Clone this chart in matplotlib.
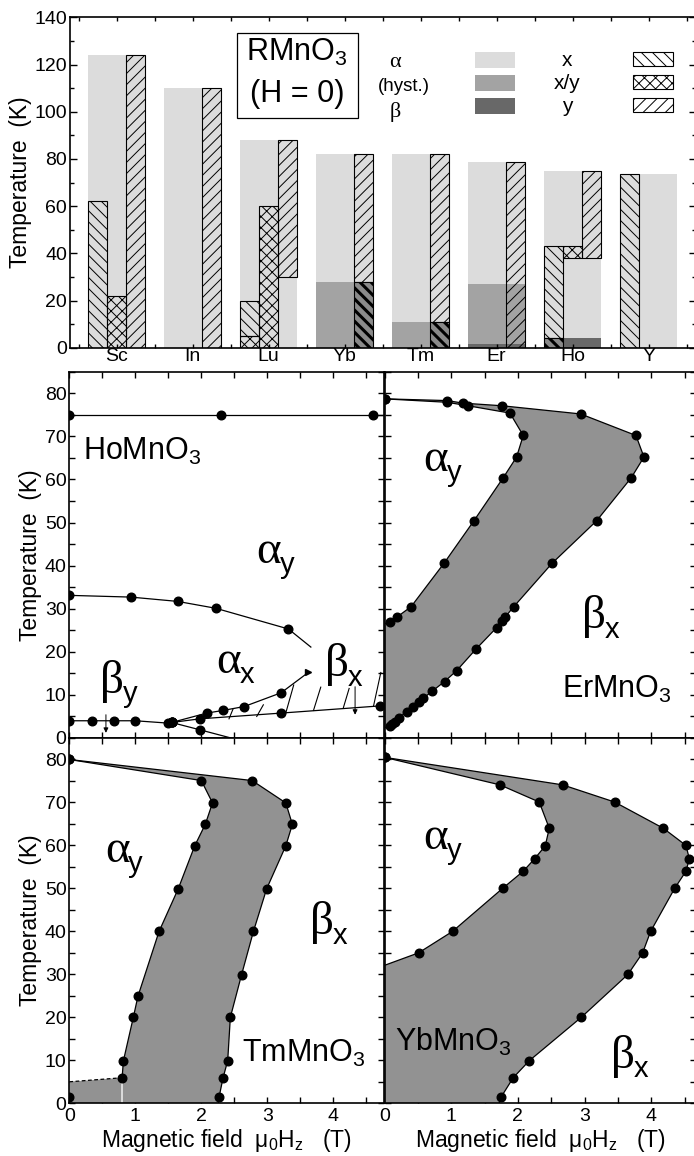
import numpy as np
import matplotlib
matplotlib.use("Agg")
import matplotlib.pyplot as plt
from matplotlib import font_manager
from matplotlib.patches import Rectangle
from matplotlib.ticker import MultipleLocator

# ---------------------------------------------------------------- data
# RMnO3 at H = 0 : ordering temperatures and domain ranges (K)
compounds = ["Sc", "In", "Lu", "Yb", "Tm", "Er", "Ho", "Y"]
t_order = [124, 110, 88, 82, 82, 78.5, 75, 73.5]   # x  (light gray)
t_xy = [0, 0, 0, 28, 11, 27, 0, 0]                  # x/y (medium gray)
t_y = [0, 0, 0, 0, 0, 1.5, 4, 0]                    # y  (dark gray)

# hatched domains (compound, T_low, T_high)
alpha_bars = [("Sc", 0, 62), ("Lu", 5, 20), ("Ho", 4, 43), ("Y", 0, 73.5)]
hyst_alpha_col = [("Lu", 0, 5)]
hyst_bars = [("Sc", 0, 22), ("Lu", 0, 60), ("Ho", 38, 43)]
beta_bars = [("Sc", 0, 124), ("In", 0, 110), ("Lu", 30, 88), ("Yb", 28, 82),
             ("Tm", 11, 82), ("Er", 0, 78.5), ("Ho", 38, 75)]
mixed_beta = [("Yb", 0, 28), ("Tm", 0, 11)]
mixed_alpha = [("Ho", 0, 4)]

# HoMnO3 phase diagram (H in T, T in K)
ho_tn_h = [0, 2.3, 4.6]
ho_tn_t = [75, 75, 75]
ho_upper_h = [0, 0.93, 1.64, 2.22, 3.32]
ho_upper_t = [33.1, 32.7, 31.7, 30.1, 25.3]
ho_upper_tail = (3.66, 21.1)
ho_by_h = [0, 0.34, 0.67, 1.0, 1.5, 1.55]
ho_by_t = [4.0, 4.0, 4.0, 4.0, 3.45, 3.6]
ho_ax_up_h = [1.55, 2.08, 2.33, 2.65, 3.21]
ho_ax_up_t = [3.6, 5.77, 6.4, 7.3, 10.5]
ho_ax_up_end = (3.62, 15.2)
ho_ax_lo_h = [1.55, 1.98, 3.2, 4.71]
ho_ax_lo_t = [3.6, 4.45, 5.77, 7.45]
ho_down_h = [1.55, 1.98]
ho_down_t = [3.6, 1.9]
ho_down_end = (2.45, 0.0)
ho_hatch_h0 = [2.42, 2.84, 3.28, 3.70, 4.15, 4.61]
ho_hatch_t0 = [4.45, 5.0, 5.8, 6.4, 6.9, 7.45]
ho_hatch_h1 = [2.48, 2.94, 3.40, 3.81, 4.24, 4.72]
ho_hatch_t1 = [6.7, 7.7, 12.3, 11.8, 11.5, 15.2]
ho_arrow_h = [0.555, 4.33]
ho_arrow_top = [5.4, 11.9]
ho_arrow_bot = [1.2, 5.4]

# ErMnO3
er_left_h = [0, 0.94, 1.25, 1.88, 2.08, 1.98, 1.78, 1.34, 0.89, 0.40, 0.19, 0.075]
er_left_t = [78.7, 77.9, 77.1, 75.4, 70.2, 65.2, 60.4, 50.4, 40.5, 30.5, 28.1, 26.9]
er_left_end = (0.0, 26.5)
er_right_h = [0, 0.94, 1.18, 1.76, 2.94, 3.77, 3.89, 3.70, 3.18, 2.51, 1.94, 1.81,
              1.76, 1.68, 1.37, 1.08, 0.90, 0.71, 0.58, 0.51, 0.42, 0.33, 0.21,
              0.16, 0.11, 0.075]
er_right_t = [78.7, 78.3, 77.7, 77.1, 75.2, 70.2, 65.2, 60.4, 50.4, 40.5, 30.5, 28.1,
              27.1, 25.6, 20.6, 15.6, 13.1, 10.8, 9.2, 8.4, 7.3, 6.1, 4.6,
              3.8, 3.3, 2.8]
er_right_end = (0.0, 2.3)

# TmMnO3
tm_left_h = [0, 2.0, 2.17, 2.06, 1.90, 1.65, 1.36, 1.04, 0.97, 0.82, 0.80]
tm_left_t = [80, 75.1, 69.9, 64.9, 59.9, 49.9, 40.0, 24.9, 20.0, 9.9, 5.95]
tm_right_h = [0, 2.77, 3.28, 3.38, 3.28, 2.99, 2.79, 2.61, 2.44, 2.40, 2.33, 2.27]
tm_right_t = [80, 75.1, 69.9, 64.9, 59.9, 49.9, 40.0, 29.9, 20.0, 9.9, 5.95, 1.5]
tm_right_end = (2.26, 0.0)
tm_low_h = [0, 0.80]
tm_low_t = [5.0, 5.95]
tm_zero_field = (0, 1.5)

# YbMnO3
yb_left_h = [0, 1.73, 2.32, 2.47, 2.41, 2.25, 2.08, 1.77, 1.02, 0.51]
yb_left_t = [80.5, 74.1, 70.1, 64.0, 59.9, 56.9, 54.0, 50.0, 40.0, 35.0]
yb_left_end = (0.0, 32.1)
yb_right_h = [0, 2.67, 3.45, 4.18, 4.52, 4.57, 4.52, 4.35, 3.99, 3.87, 3.65, 2.95,
              2.17, 1.93, 1.75]
yb_right_t = [80.5, 74.1, 70.1, 64.0, 60.0, 56.9, 54.0, 50.0, 40.0, 35.0, 30.0, 20.0,
              9.9, 5.95, 1.5]
yb_right_end = (1.72, 0.0)

# ---------------------------------------------------------------- style
avail = {f.name for f in font_manager.fontManager.ttflist}
if "Liberation Sans Narrow" in avail:
    SANS, K = "Liberation Sans Narrow", 1.08
else:
    SANS, K = "Liberation Sans", 1.0
SERIF = "Liberation Serif" if "Liberation Serif" in avail else "DejaVu Serif"

plt.rcParams.update({
    "font.family": [SANS, "DejaVu Sans"],
    "mathtext.fontset": "custom",
    "mathtext.rm": SANS,
    "mathtext.it": SANS,
    "mathtext.default": "rm",
    "axes.linewidth": 1.2,
    "hatch.linewidth": 0.7,
})

LIGHT, MED, DARK, PHASE = "#dcdcdc", "#a3a3a3", "#686868", "#929292"
TICK = 14 * K
LAB = 16.5 * K
NAME = 22 * K
GREEK = 34
SUB = 21 * K

W, H = 694, 1156
fig = plt.figure(figsize=(W / 100, H / 100), dpi=100)


def px_axes(x0, y0, x1, y1):
    """Axes from pixel box (left, top, right, bottom)."""
    return fig.add_axes([x0 / W, 1 - y1 / H, (x1 - x0) / W, (y1 - y0) / H])


# ---------------------------------------------------------------- top panel
ax = px_axes(70, 17.3, 695.5, 347.7)
xs = np.arange(len(compounds))
cw = 0.25
ax.bar(xs, t_order, width=3 * cw, color=LIGHT, lw=0, zorder=1)
ax.bar(xs, t_xy, width=3 * cw, color=MED, lw=0, zorder=1.1)
ax.bar(xs, t_y, width=3 * cw, color=DARK, lw=0, zorder=1.2)


def hatched(rows, offset, hatch, face=None, hlw=None):
    for name, lo, hi in rows:
        i = compounds.index(name)
        bars = ax.bar(i + offset, hi - lo, bottom=lo, width=cw,
                      fill=face is not None, facecolor=face or "none",
                      edgecolor="k", lw=0.8, hatch=hatch, zorder=2)
        if hlw is not None:
            for p in bars:
                if hasattr(p, "set_hatch_linewidth"):
                    p.set_hatch_linewidth(hlw)


hatched(alpha_bars, -cw, "\\\\\\")
hatched(hyst_alpha_col, -cw, "xxx")
hatched(hyst_bars, 0, "xxx")
hatched(beta_bars, cw, "///")
hatched(mixed_beta, cw, "\\\\\\", face="#8a8a8a", hlw=2.2)
hatched(mixed_alpha, -cw, "\\\\\\", face="#8a8a8a", hlw=2.2)

ax.set_xlim(-0.614, -0.614 + 625.5 / 76)
ax.set_ylim(0, 140)
ax.set_xticks(xs)
ax.set_xticklabels(compounds, fontsize=TICK)
ax.xaxis.set_minor_locator(MultipleLocator(0.5))
ax.yaxis.set_major_locator(MultipleLocator(20))
ax.yaxis.set_minor_locator(MultipleLocator(10))
ax.tick_params(which="both", direction="in", top=True, right=True, width=1)
ax.tick_params(axis="y", which="major", length=5, labelsize=TICK, pad=2)
ax.tick_params(axis="y", which="minor", length=3)
ax.tick_params(axis="x", which="both", length=3, pad=0)
ax.set_ylabel("Temperature  (K)", fontsize=LAB, labelpad=2)

# legend block
ax.add_patch(Rectangle((0.267, 0.694), 0.193, 0.258, transform=ax.transAxes,
                       fill=False, ec="k", lw=0.9, zorder=3))
ax.text(0.363, 0.893, "RMnO$_3$", transform=ax.transAxes, fontsize=NAME,
        ha="center", va="center")
ax.text(0.363, 0.768, "(H = 0)", transform=ax.transAxes, fontsize=NAME,
        ha="center", va="center")
ax.text(0.52, 0.862, "α", transform=ax.transAxes, family=SERIF, fontsize=16,
        ha="center", va="center")
ax.text(0.534, 0.79, "(hyst.)", transform=ax.transAxes, fontsize=13.5 * K,
        ha="center", va="center")
ax.text(0.52, 0.713, "β", transform=ax.transAxes, family=SERIF, fontsize=16,
        ha="center", va="center")
for yb, col, lab in [(0.8475, LIGHT, "x"), (0.778, MED, "x/y"), (0.707, DARK, "y")]:
    ax.add_patch(Rectangle((0.647, yb), 0.065, 0.048, transform=ax.transAxes,
                           color=col, lw=0, zorder=3))
    ax.text(0.795, yb + 0.022, lab, transform=ax.transAxes, fontsize=15 * K,
            ha="center", va="center")
for yb, hp in [(0.853, "\\\\\\"), (0.783, "xxx"), (0.7125, "///")]:
    ax.add_patch(Rectangle((0.9, yb), 0.064, 0.043, transform=ax.transAxes,
                           facecolor="white", ec="k", lw=0.8, hatch=hp, zorder=3))

# ---------------------------------------------------------------- phase panels
ax_ho = px_axes(69.3, 371.7, 383.5, 738.0)
ax_er = px_axes(384.5, 371.7, 695.5, 738.0)
ax_tm = px_axes(69.3, 738.0, 383.5, 1103.3)
ax_yb = px_axes(384.5, 738.0, 695.5, 1103.3)

for a, (xl, yl) in {ax_ho: (False, True), ax_er: (False, False),
                    ax_tm: (True, True), ax_yb: (True, False)}.items():
    a.set_ylim(0, 85)
    a.set_xlim(0, (a.get_position().width * W) / (66.0 if a in (ax_ho, ax_tm) else 66.7))
    a.xaxis.set_major_locator(MultipleLocator(1))
    a.xaxis.set_minor_locator(MultipleLocator(0.5))
    a.yaxis.set_major_locator(MultipleLocator(10))
    a.yaxis.set_minor_locator(MultipleLocator(5))
    a.tick_params(which="both", direction="in", top=True, right=True, width=1,
                  labelsize=TICK)
    a.tick_params(which="both", length=4.5)
    a.tick_params(axis="y", pad=2)
    a.tick_params(axis="x", pad=3.5)
    a.tick_params(labelbottom=xl, labelleft=yl)
    if yl:
        a.set_ylabel("Temperature  (K)", fontsize=LAB, labelpad=2)
    if xl:
        a.set_xlabel("Magnetic field  μ$_0$H$_z$   (T)", fontsize=LAB, labelpad=1)

MK = dict(marker="o", ms=6.2, mfc="k", mec="k", ls="none", zorder=4)
LN = dict(color="k", lw=0.9, zorder=3)


def greek(a, x, y, letter, sub):
    t = a.text(x, y, letter, family=SERIF, fontsize=GREEK, ha="left", va="baseline")
    r = fig.canvas.get_renderer()
    bb = t.get_window_extent(renderer=r)
    x0 = a.transData.transform((x, y))[0]
    a.annotate(sub, xy=(x, y), xytext=((bb.x1 - x0) * 0.72 - 1, -7.0),
               textcoords="offset points", fontsize=SUB, ha="left", va="baseline")


def name(a, x, y, base):
    a.text(x, y, base + "MnO$_3$", fontsize=NAME, ha="left", va="baseline")


# HoMnO3
a = ax_ho
a.axhline(ho_tn_t[0], **LN)
a.plot(ho_tn_h, ho_tn_t, **MK)
a.plot(ho_upper_h + [ho_upper_tail[0]], ho_upper_t + [ho_upper_tail[1]], **LN)
a.plot(ho_upper_h, ho_upper_t, **MK)
a.plot(ho_by_h, ho_by_t, **LN)
a.plot(ho_by_h, ho_by_t, **MK)
a.plot(ho_ax_up_h + [ho_ax_up_end[0]], ho_ax_up_t + [ho_ax_up_end[1]], **LN)
a.plot(ho_ax_up_h, ho_ax_up_t, **MK)
a.plot([ho_ax_up_end[0]], [ho_ax_up_end[1]], marker=">", ms=5, color="k",
       ls="none", zorder=4)
a.plot(ho_ax_lo_h, ho_ax_lo_t, **LN)
a.plot(ho_ax_lo_h, ho_ax_lo_t, **MK)
a.plot(ho_down_h + [ho_down_end[0]], ho_down_t + [ho_down_end[1]], **LN)
a.plot(ho_down_h, ho_down_t, **MK)
for h0, t0, h1, t1 in zip(ho_hatch_h0, ho_hatch_t0, ho_hatch_h1, ho_hatch_t1):
    a.plot([h0, h1], [t0, t1], color="k", lw=0.8, zorder=3)
for h, t0, t1 in zip(ho_arrow_h, ho_arrow_top, ho_arrow_bot):
    a.annotate("", xy=(h, t1), xytext=(h, t0),
               arrowprops=dict(arrowstyle="-|>", lw=0.7, color="k",
                               mutation_scale=7, shrinkA=0, shrinkB=0))
name(a, 0.21, 64.6, "Ho")
greek(a, 2.84, 40.6, "α", "y")
greek(a, 2.23, 15.0, "α", "x")
greek(a, 3.87, 14.4, "β", "x")
greek(a, 0.465, 10.5, "β", "y")


def phase(a, lh, lt, rh, rt, left_tail=None, right_tail=None, corner=None):
    left = list(zip(lh, lt)) + ([left_tail] if left_tail else [])
    right = list(zip(rh, rt)) + ([right_tail] if right_tail else [])
    poly = left + ([corner] if corner else []) + right[::-1]
    px, py = zip(*poly)
    a.fill(px, py, color=PHASE, lw=0, zorder=2)
    for pts in (left, right):
        x, y = zip(*pts)
        a.plot(x, y, **LN)
    a.plot(lh, lt, **MK)
    a.plot(rh, rt, **MK)


# ErMnO3
phase(ax_er, er_left_h, er_left_t, er_right_h, er_right_t,
      left_tail=er_left_end, right_tail=er_right_end)
name(ax_er, 2.66, 9.2, "Er")
greek(ax_er, 0.58, 61.9, "α", "y")
greek(ax_er, 2.96, 25.5, "β", "x")

# TmMnO3 (low-field region below the dashed line belongs to the gray phase)
phase(ax_tm, tm_left_h, tm_left_t, tm_right_h, tm_right_t,
      right_tail=tm_right_end, corner=(tm_low_h[1], 0.0))
ax_tm.fill([tm_low_h[0], tm_low_h[1], tm_low_h[1], tm_low_h[0]],
           [tm_low_t[0], tm_low_t[1], 0, 0], color=PHASE, lw=0, zorder=2)
ax_tm.plot(tm_low_h, tm_low_t, color="k", lw=0.9, ls=(0, (3, 2)), zorder=3)
ax_tm.plot([tm_low_h[1], tm_low_h[1]], [0, tm_low_t[1]], color="#e8e8e8",
           lw=1.2, zorder=2.5)
ax_tm.plot([tm_zero_field[0]], [tm_zero_field[1]], **MK)
name(ax_tm, 2.61, 9.7, "Tm")
greek(ax_tm, 0.54, 56.1, "α", "y")
greek(ax_tm, 3.65, 39.3, "β", "x")

# YbMnO3
phase(ax_yb, yb_left_h, yb_left_t, yb_right_h, yb_right_t,
      left_tail=yb_left_end, right_tail=yb_right_end, corner=(0.0, 0.0))
name(ax_yb, 0.15, 12.2, "Yb")
greek(ax_yb, 0.58, 59.2, "α", "y")
greek(ax_yb, 3.40, 8.3, "β", "x")

fig.savefig("out.png", dpi=100)
